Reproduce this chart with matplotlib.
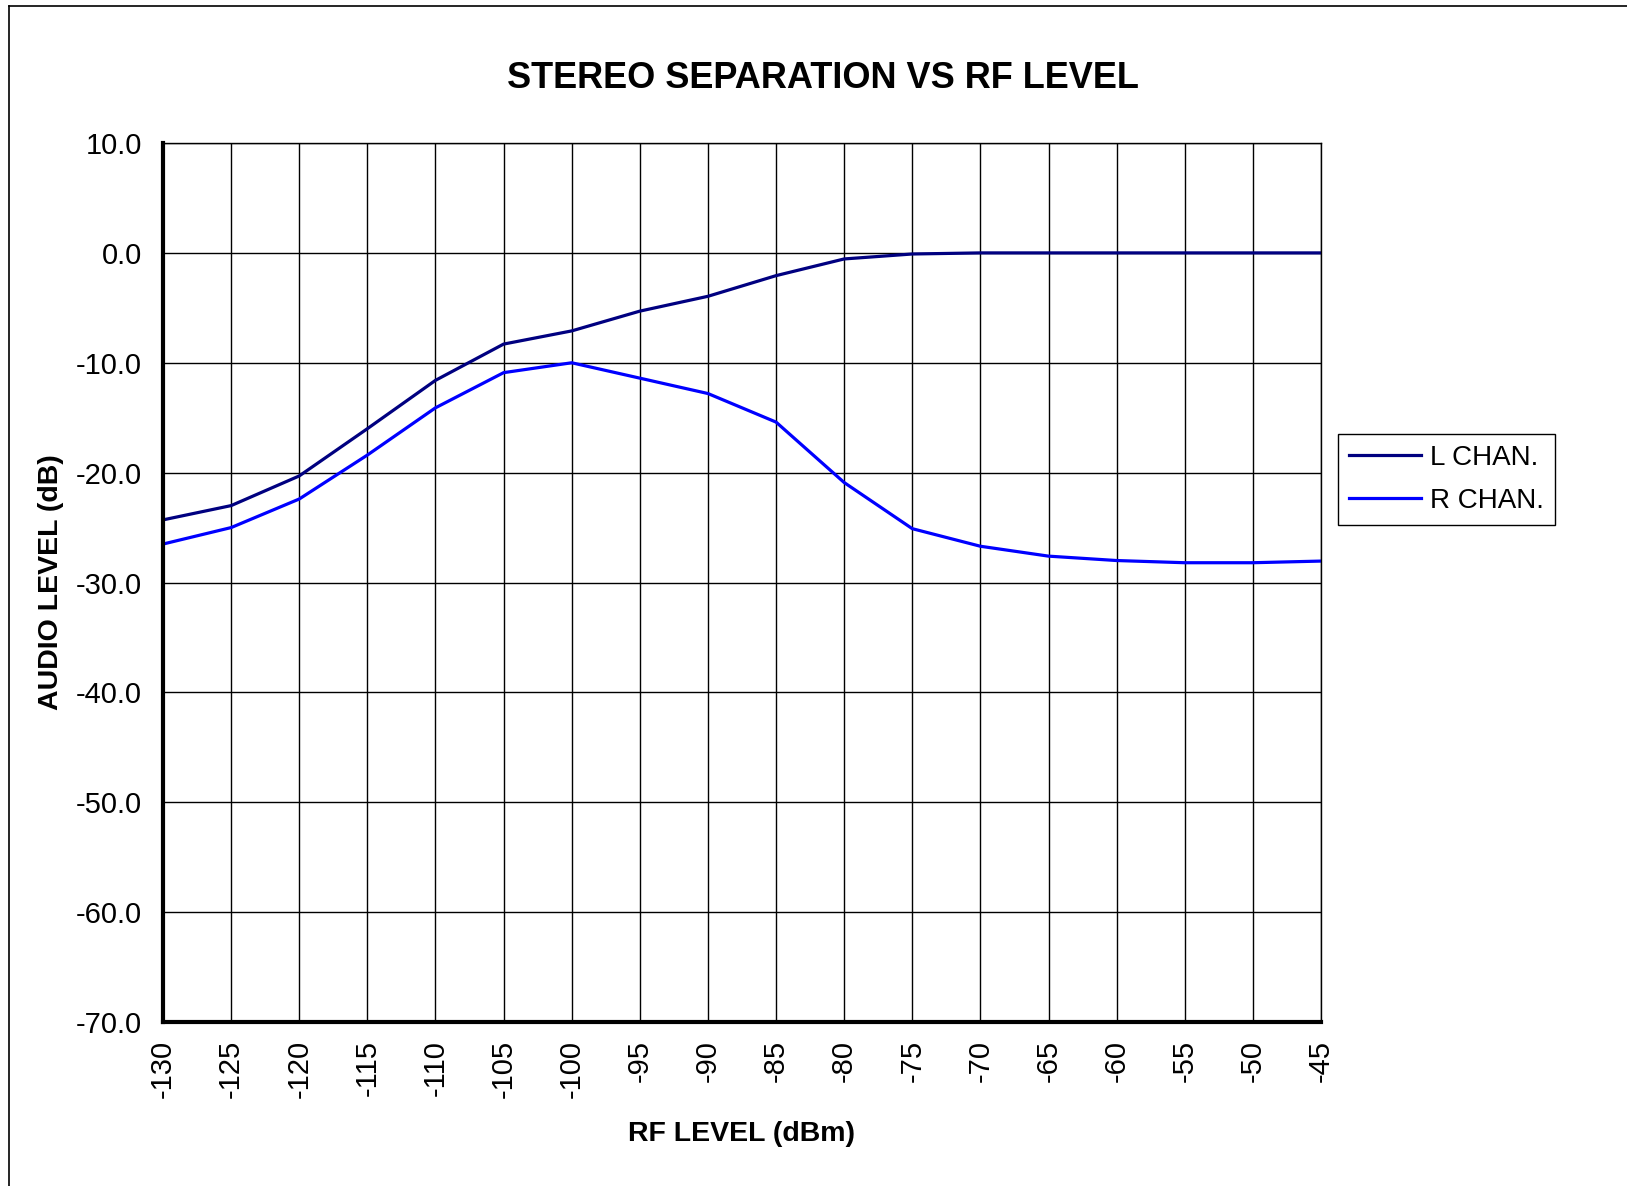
import matplotlib
matplotlib.use("Agg")
from matplotlib import pyplot as plt
from matplotlib.lines import Line2D

plt.rcParams['font.family'] = ['Liberation Sans', 'DejaVu Sans']

rf_level = [-130, -125, -120, -115, -110, -105, -100, -95, -90, -85, -80, -75, -70, -65, -60, -55, -50, -45]
l_chan = [-24.3, -23.0, -20.3, -16.0, -11.6, -8.3, -7.1, -5.3, -3.95, -2.07, -0.55, -0.1, 0.0, 0.0, 0.0, 0.0, 0.0, 0.0]
r_chan = [-26.5, -25.0, -22.4, -18.4, -14.1, -10.9, -10.0, -11.4, -12.8, -15.4, -20.9, -25.1, -26.7, -27.6, -28.0, -28.2, -28.2, -28.05]
y_ticks = [10, 0, -10, -20, -30, -40, -50, -60, -70]

fig = plt.figure(figsize=(16.27, 11.86), dpi=100)
ax = fig.add_axes([0.1002, 0.1383, 0.7117, 0.7411])

ax.plot(rf_level, l_chan, color='#000080', lw=2.3, label='L CHAN.')
ax.plot(rf_level, r_chan, color='#0000FF', lw=2.3, label='R CHAN.')

ax.set_xlim(-130, -45)
ax.set_ylim(-70, 10)
ax.set_xticks(rf_level)
ax.set_xticklabels([str(v) for v in rf_level], rotation=90, fontsize=21)
ax.set_yticks(y_ticks)
ax.set_yticklabels(['%.1f' % v for v in y_ticks], fontsize=21)
ax.tick_params(length=0)
ax.tick_params(axis='y', pad=15)
ax.tick_params(axis='x', pad=13)
ax.grid(True, color='black', lw=1)
ax.set_axisbelow(True)

ax.spines['left'].set_linewidth(3)
ax.spines['bottom'].set_linewidth(3)
ax.spines['top'].set_linewidth(1)
ax.spines['right'].set_linewidth(1)

ax.set_xlabel('RF LEVEL (dBm)', fontsize=20.5, fontweight='bold', labelpad=16)
ax.set_ylabel('AUDIO LEVEL (dB)', fontsize=20.5, fontweight='bold', labelpad=9)

fig.text(0.506, 0.934, 'STEREO SEPARATION VS RF LEVEL', fontsize=26, fontweight='bold',
         ha='center', va='center')

leg = ax.legend(loc='upper left', bbox_to_anchor=(1.0147, 0.669), borderaxespad=0,
                fontsize=20, fancybox=False, edgecolor='black', framealpha=1,
                handlelength=2.6, handletextpad=0.3, labelspacing=0.6,
                borderpad=0.4)
leg.get_frame().set_linewidth(1)

# outer chart border (top and left edges visible)
fig.add_artist(Line2D([9 / 1627, 1.0], [1 - 6 / 1186, 1 - 6 / 1186], color='black', lw=1.2))
fig.add_artist(Line2D([9 / 1627, 9 / 1627], [0.0, 1 - 6 / 1186], color='black', lw=1.2))

fig.savefig('out.png', dpi=100)
